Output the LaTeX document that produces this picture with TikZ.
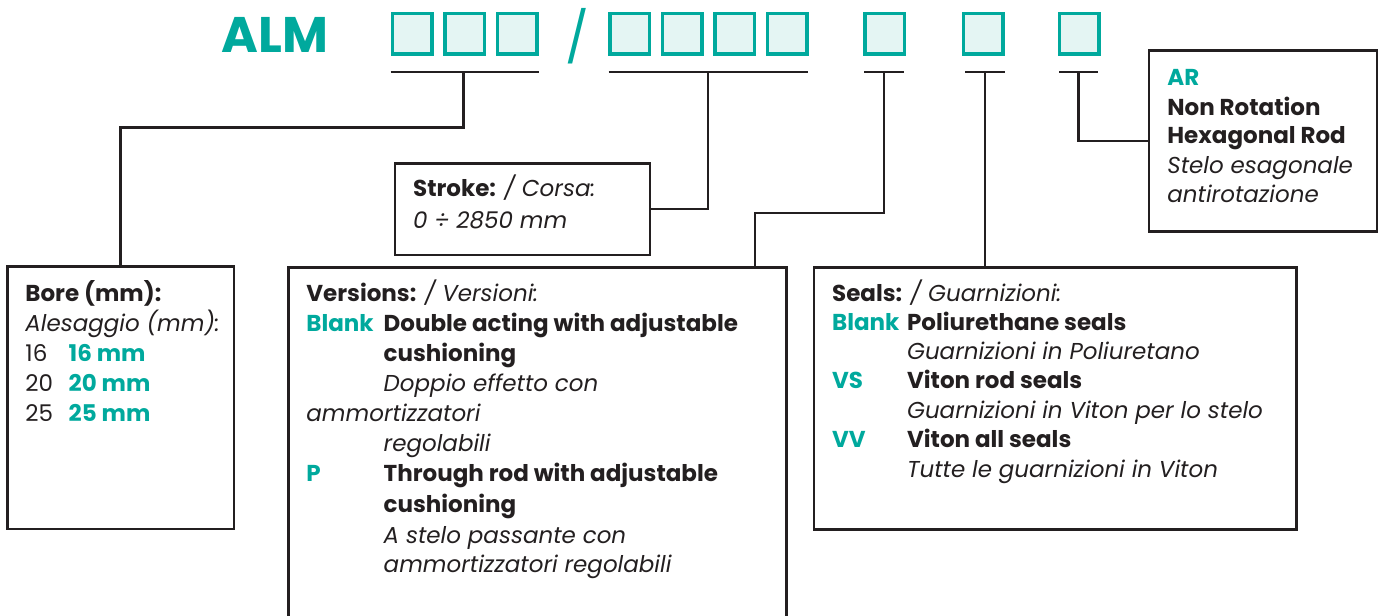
\documentclass[tikz,border=0pt]{standalone}
\usepackage{fontspec}
\setmainfont{Poppins}
\definecolor{almteal}{HTML}{00A99D}
\definecolor{sqfill}{HTML}{E4F5F3}
\definecolor{ink}{HTML}{231F20}
\tikzset{
  sq/.style={draw=almteal, fill=sqfill, line width=1.75pt, minimum width=19.75pt, minimum height=20.25pt, inner sep=0pt},
  uline/.style={draw=ink, line width=1.4pt},
  conn/.style={draw=ink, line width=1.25pt},
  box/.style={draw=ink, line width=1.4pt, inner sep=0pt},
  txt/.style={anchor=base west, inner sep=0pt, text=ink, font=\fontsize{11.5pt}{15pt}\selectfont},
  txtb/.style={txt, font=\fontsize{11.5pt}{15pt}\selectfont\bfseries},
  txti/.style={txt, font=\fontsize{11.5pt}{15pt}\selectfont\itshape},
  code/.style={txt, text=almteal, font=\fontsize{11.5pt}{15pt}\selectfont\bfseries},
  title/.style={inner sep=0pt, text=almteal, font=\fontsize{25pt}{30pt}\selectfont\bfseries}
}
\begin{document}
\begin{tikzpicture}[x=0.5pt,y=-0.5pt]
\useasboundingbox (0,0) rectangle (1379,615);
% header
\node[title, anchor=base west] (alm) at (221,53) {ALM};
\node[title, font=\fontsize{25pt}{30pt}\selectfont\mdseries] (slash) at (577,36) {/};
\node[sq] (s1) at (412,34) {};
\node[sq] (s2) at (464.5,34) {};
\node[sq] (s3) at (517,34) {};
\node[sq] (s4) at (629.7,34) {};
\node[sq] (s5) at (682,34) {};
\node[sq] (s6) at (734.6,34) {};
\node[sq] (s7) at (787,34) {};
\node[sq] (s8) at (884.5,34) {};
\node[sq] (s9) at (983,34) {};
\node[sq] (s10) at (1079,34) {};
% underlines
\coordinate (u1a) at (390.6,72); \coordinate (u1b) at (538.7,72);
\coordinate (u2a) at (608.7,72); \coordinate (u2b) at (807.5,72);
\coordinate (u3a) at (864,72);   \coordinate (u3b) at (904,72);
\coordinate (u4a) at (965,72);   \coordinate (u4b) at (1005,72);
\coordinate (u5a) at (1059,72);  \coordinate (u5b) at (1098,72);
\draw[uline] (u1a) -- (u1b);
\draw[uline] (u2a) -- (u2b);
\draw[uline] (u3a) -- (u3b);
\draw[uline] (u4a) -- (u4b);
\draw[uline] (u5a) -- (u5b);
% boxes
\node[box, minimum width=113.35pt, minimum height=131.15pt] (bore) at (120.7,397.9) {};
\node[box, minimum width=127.5pt, minimum height=45.85pt] (stroke) at (522.5,209.2) {};
\node[box, minimum width=249.2pt, minimum height=186.35pt] (versions) at (537.5,453.6) {};
\node[box, minimum width=241.35pt, minimum height=131pt] (seals) at (1055.35,398.3) {};
\node[box, minimum width=114pt, minimum height=90.5pt] (ar) at (1263,141.2) {};
% connectors
\coordinate (c1) at (463.6,72);
\coordinate (c2) at (708,72);
\coordinate (c3) at (884,72);
\coordinate (c4) at (985,72);
\coordinate (c5) at (1078.5,72);
\coordinate (vtop) at (755,267.3);
\draw[conn] (c1) -- (463.6,127.7) -| (bore.north);
\draw[conn] (c2) |- (stroke.east);
\draw[conn] (c3) -- (884,213) -| (vtop);
\draw[conn] (c4) -- (985,267.3);
\draw[conn] (c5) |- (ar.west);
% bore text
\node[txtb] (b1) at (25,301.7) {Bore (mm):};
\node[txti] (b2) at (25,331.7) {Alesaggio (mm):};
\node[txt] (b3) at (25,361.7) {16};
\node[code] (b3c) at (68.3,361.7) {16 mm};
\node[txt] (b4) at (25,391.7) {20};
\node[code] (b4c) at (68.3,391.7) {20 mm};
\node[txt] (b5) at (25,421.7) {25};
\node[code] (b5c) at (68.3,421.7) {25 mm};
% stroke text
\node[txt] (st1) at (412.7,196.7) {\textbf{Stroke:} \textit{/ Corsa:}};
\node[txti] (st2) at (412.7,228.3) {0 ÷ 2850 mm};
% versions text
\node[txt] (v0) at (306,301.7) {\textbf{Versions:} \textit{/ Versioni:}};
\node[code] (v1c) at (306,331.7) {Blank};
\node[txtb] (v1) at (383.3,331.7) {Double acting with adjustable};
\node[txtb] (v2) at (383.3,361.7) {cushioning};
\node[txti] (v3) at (383.3,391.7) {Doppio effetto con};
\node[txti] (v4) at (306,421.7) {ammortizzatori};
\node[txti] (v5) at (383.3,451.7) {regolabili};
\node[code] (v6c) at (306,481.7) {P};
\node[txtb] (v6) at (383.3,481.7) {Through rod with adjustable};
\node[txtb] (v7) at (383.3,512) {cushioning};
\node[txti] (v8) at (383.3,543) {A stelo passante con};
\node[txti] (v9) at (383.3,572.5) {ammortizzatori regolabili};
% seals text
\node[txt] (e0) at (831.7,301.7) {\textbf{Seals:} \textit{/ Guarnizioni:}};
\node[code] (e1c) at (831.7,330) {Blank};
\node[txtb] (e1) at (906.7,330) {Poliurethane seals};
\node[txti] (e2) at (906.7,359.3) {Guarnizioni in Poliuretano};
\node[code] (e3c) at (831.7,388.3) {VS};
\node[txtb] (e3) at (906.7,388.3) {Viton rod seals};
\node[txti] (e4) at (906.7,418.3) {Guarnizioni in Viton per lo stelo};
\node[code] (e5c) at (831.7,447.3) {VV};
\node[txtb] (e5) at (906.7,447.3) {Viton all seals};
\node[txti] (e6) at (906.7,477.3) {Tutte le guarnizioni in Viton};
% AR text
\node[code] (a0) at (1167,85) {AR};
\node[txtb] (a1) at (1167,115) {Non Rotation};
\node[txtb] (a2) at (1167,143.5) {Hexagonal Rod};
\node[txti] (a3) at (1167,173) {Stelo esagonale};
\node[txti] (a4) at (1167,202) {antirotazione};
\end{tikzpicture}
\end{document}
